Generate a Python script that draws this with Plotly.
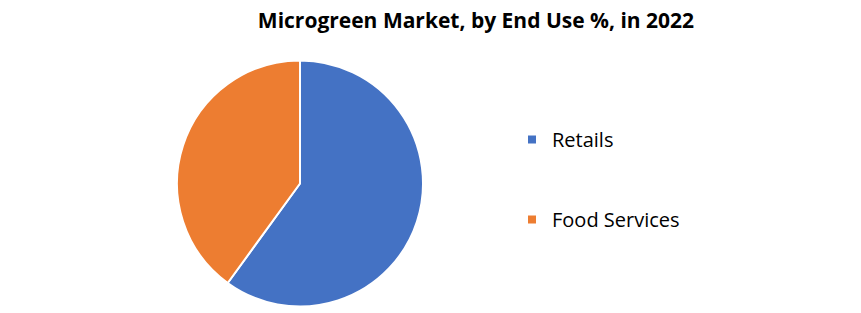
import plotly.graph_objects as go

labels = ["Retails", "Food Services"]
values = [60, 40]
colors = ["#4472C4", "#ED7D31"]
title_text = "Microgreen Market, by End Use %, in 2022"

W, H = 861, 313

fig = go.Figure()
fig.add_trace(go.Pie(
    labels=labels, values=values,
    marker=dict(colors=colors, line=dict(color="white", width=2)),
    sort=False, direction="clockwise", rotation=0,
    textinfo="none", hoverinfo="label+percent",
    showlegend=False,
    domain=dict(x=[177 / W, 423 / W], y=[6 / H, 253 / H]),
))
for i, (lab, col) in enumerate(zip(labels, colors)):
    fig.add_trace(go.Scatter(
        x=[None], y=[None], mode="markers", name=lab,
        marker=dict(symbol="square", size=8, color=col),
        legendgroup=f"g{i}", showlegend=True,
    ))

fig.update_layout(
    width=W, height=H,
    margin=dict(l=0, r=0, t=0, b=0),
    paper_bgcolor="white", plot_bgcolor="white",
    font=dict(family="'Open Sans', Lato, sans-serif", color="#000000"),
    title=dict(text="<b>" + title_text + "</b>", x=476 / W, xanchor="center",
               y=1 - 21 / H, yanchor="middle", yref="container",
               font=dict(size=21, color="#000000")),
    xaxis=dict(visible=False), yaxis=dict(visible=False),
    legend=dict(x=512 / W, xanchor="left", y=1 - 120 / H, yanchor="top",
                font=dict(size=20, color="#000000"), tracegroupgap=51,
                itemwidth=30, bgcolor="rgba(0,0,0,0)"),
)
fig.write_html("out.html")
